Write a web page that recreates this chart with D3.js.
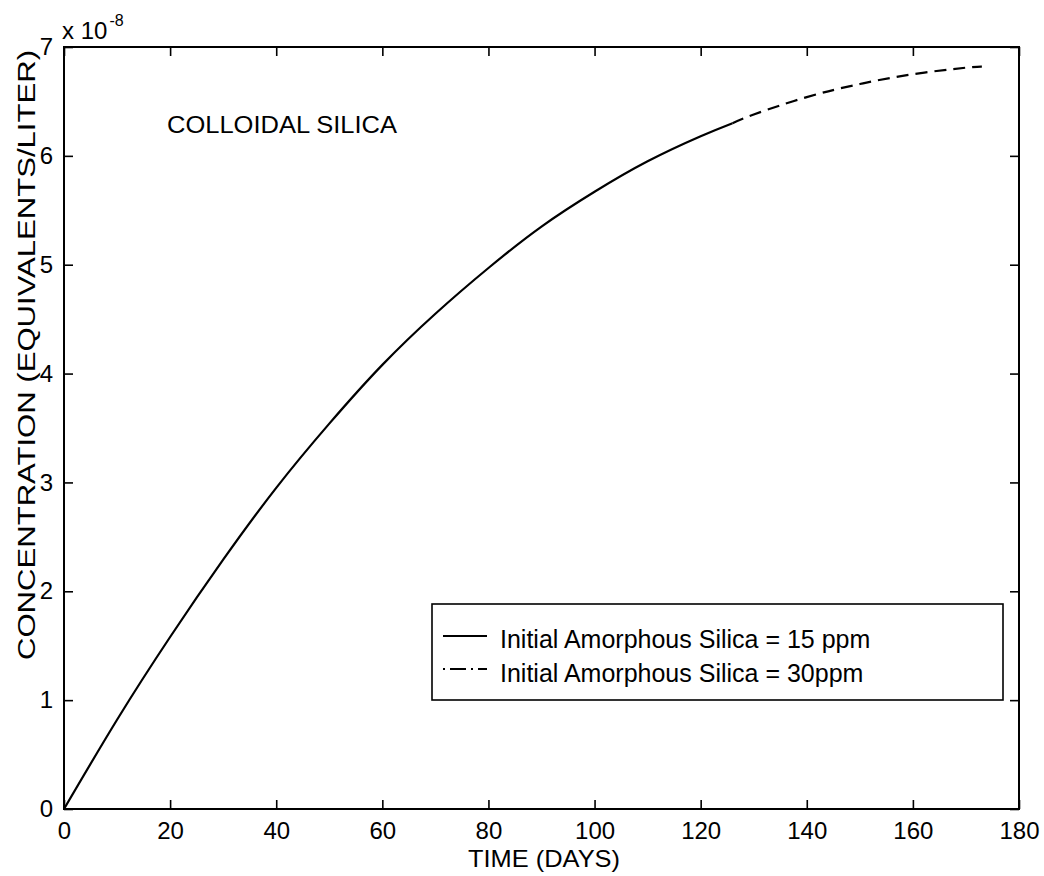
<!DOCTYPE html>
<html>
<head>
<meta charset="utf-8">
<script src="https://cdn.jsdelivr.net/npm/d3@7"></script>
<style>
  html, body { margin: 0; padding: 0; background: #fff; }
  text { font-family: "Liberation Sans", Arial, Helvetica, sans-serif; fill: #000; }
</style>
</head>
<body>
<svg id="chart" width="1044" height="876"></svg>
<script>
// ---- data ----
const days15 = [0, 10, 20, 30, 40, 50, 60, 70, 80, 90, 100, 110, 120, 126];
const conc15 = [0, 0.82, 1.58, 2.29, 2.95, 3.54, 4.08, 4.55, 4.97, 5.35, 5.67, 5.95, 6.18, 6.30];
const days30 = [126, 130, 140, 150, 160, 170, 173];
const conc30 = [6.30, 6.38, 6.54, 6.66, 6.75, 6.81, 6.82];
const xTicks = [0, 20, 40, 60, 80, 100, 120, 140, 160, 180];
const yTicks = [0, 1, 2, 3, 4, 5, 6, 7];
const seriesLabels = ["Initial Amorphous Silica = 15 ppm", "Initial Amorphous Silica = 30ppm"];
const xTitle = "TIME (DAYS)";
const yTitle = "CONCENTRATION (EQUIVALENTS/LITER)";
const annotation = "COLLOIDAL SILICA";

// ---- layout ----
const L = 64, R = 1019, T = 47, B = 809;
const svg = d3.select("#chart");
const x = d3.scaleLinear().domain([0, 180]).range([L, R]);
const y = d3.scaleLinear().domain([0, 7]).range([B, T]);
const tickLen = 9;
const fs = 24;

// axes box
svg.append("rect").attr("x", L).attr("y", T).attr("width", R - L).attr("height", B - T)
  .attr("fill", "none").attr("stroke", "#000").attr("stroke-width", 2);

// bottom axis (ticks inward)
const xb = svg.append("g").attr("transform", `translate(0,${B})`)
  .call(d3.axisBottom(x).tickValues(xTicks).tickSize(-tickLen).tickPadding(13).tickFormat(d3.format("d")));
xb.select(".domain").remove();
xb.selectAll("line").attr("stroke-width", 1.6);
xb.selectAll("text").style("font-size", fs + "px").style("font-family", "Liberation Sans, Arial, sans-serif");
// top axis ticks
const xt = svg.append("g").attr("transform", `translate(0,${T})`)
  .call(d3.axisTop(x).tickValues(xTicks).tickSize(-tickLen).tickFormat(""));
xt.select(".domain").remove();
xt.selectAll("line").attr("stroke-width", 1.6);

// left axis
const yl = svg.append("g").attr("transform", `translate(${L},0)`)
  .call(d3.axisLeft(y).tickValues(yTicks).tickSize(-tickLen).tickPadding(11).tickFormat(d3.format("d")));
yl.select(".domain").remove();
yl.selectAll("line").attr("stroke-width", 1.6);
yl.selectAll("text").style("font-size", fs + "px").style("font-family", "Liberation Sans, Arial, sans-serif");
// right axis ticks
const yr = svg.append("g").attr("transform", `translate(${R},0)`)
  .call(d3.axisRight(y).tickValues(yTicks).tickSize(-tickLen).tickFormat(""));
yr.select(".domain").remove();
yr.selectAll("line").attr("stroke-width", 1.6);

// exponent label
const ex = svg.append("text").attr("x", 62).attr("y", 39).style("font-size", fs + "px");
ex.append("tspan").text("x 10");
ex.append("tspan").attr("dy", -13).attr("dx", 2).style("font-size", "16px").text("-8");

// titles
svg.append("text").attr("x", 544).attr("y", 867).attr("text-anchor", "middle")
  .style("font-size", fs + "px").attr("textLength", 152).attr("lengthAdjust", "spacingAndGlyphs").text(xTitle);
svg.append("text").attr("transform", `translate(35,355) rotate(-90)`)
  .attr("text-anchor", "middle").style("font-size", "23px")
  .attr("textLength", 610).attr("lengthAdjust", "spacingAndGlyphs").text(yTitle);
svg.append("text").attr("x", 167).attr("y", 133).style("font-size", fs + "px")
  .attr("textLength", 230).attr("lengthAdjust", "spacingAndGlyphs").text(annotation);

// curves
const line = d3.line().x(d => x(d[0])).y(d => y(d[1])).curve(d3.curveNatural);
svg.append("path").datum(days30.map((d, i) => [d, conc30[i]]))
  .attr("d", line).attr("fill", "none").attr("stroke", "#000").attr("stroke-width", 2.2)
  .attr("stroke-dasharray", "12,7");
svg.append("path").datum(days15.map((d, i) => [d, conc15[i]]))
  .attr("d", line).attr("fill", "none").attr("stroke", "#000").attr("stroke-width", 2.2);

// legend
const lg = svg.append("g");
lg.append("rect").attr("x", 432).attr("y", 604).attr("width", 571).attr("height", 96)
  .attr("fill", "#fff").attr("stroke", "#000").attr("stroke-width", 1.6);
const styles = [null, "2,5,16,5"];
seriesLabels.forEach((s, i) => {
  const cy = 636 + i * 33;
  lg.append("line").attr("x1", 443).attr("x2", 487).attr("y1", cy).attr("y2", cy)
    .attr("stroke", "#000").attr("stroke-width", 2)
    .attr("stroke-dasharray", styles[i]);
  lg.append("text").attr("x", 500).attr("y", 648 + i * 34).style("font-size", "25px").text(s);
});
</script>
</body>
</html>
